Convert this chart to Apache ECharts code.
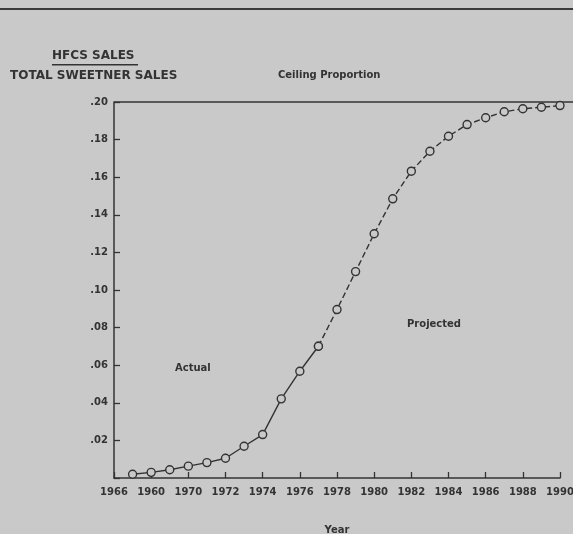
<!DOCTYPE html>
<html>
<head>
<meta charset="utf-8">
<script src="https://cdn.jsdelivr.net/npm/echarts@6/dist/echarts.min.js"></script>
<style>
  html, body { margin: 0; padding: 0; background: #c9c9c9; }
  #main { width: 573px; height: 534px; }
</style>
</head>
<body>
<div id="main"></div>
<script>
// years and HFCS share of total sweetener sales
var actualYears = [1967, 1968, 1969, 1970, 1971, 1972, 1973, 1974, 1975, 1976, 1977];
var actualValues = [0.002, 0.003, 0.0044, 0.0063, 0.0082, 0.0105, 0.0169, 0.0231, 0.0421, 0.0568, 0.0701];
var projYears = [1977, 1978, 1979, 1980, 1981, 1982, 1983, 1984, 1985, 1986, 1987, 1988, 1989, 1990];
var projValues = [0.0701, 0.0896, 0.1098, 0.1299, 0.1485, 0.1632, 0.1738, 0.1818, 0.188, 0.1916, 0.1948, 0.1964, 0.1972, 0.1981];
var xTickLabels = ['1966', '1960', '1970', '1972', '1974', '1976', '1978', '1980', '1982', '1984', '1986', '1988', '1990'];
var ceiling = 0.20;

var ink = '#333';
var bg = '#c9c9c9';
var font = 'DejaVu Sans';

function pairs(xs, ys) {
  var out = [];
  for (var i = 0; i < xs.length; i++) out.push([xs[i], ys[i]]);
  return out;
}

var chart = echarts.init(document.getElementById('main'));

var option = {
  backgroundColor: bg,
  animation: false,
  grid: { left: 114, top: 102, right: 13, bottom: 56, outerBoundsMode: 'none', containLabel: false },
  xAxis: {
    type: 'value',
    min: 1966,
    max: 1990,
    interval: 2,
    name: 'Year',
    nameLocation: 'middle',
    nameGap: 47,
    nameTextStyle: { color: ink, fontFamily: font, fontWeight: 'bold', fontSize: 10 },
    splitLine: { show: false },
    axisLine: { lineStyle: { color: ink, width: 1.5 } },
    axisTick: { inside: true, length: 6, lineStyle: { color: ink, width: 1.3 } },
    axisLabel: {
      color: ink, fontFamily: font, fontWeight: 'bold', fontSize: 10, margin: 9,
      formatter: function (v) { return xTickLabels[Math.round((v - 1966) / 2)] || ''; }
    }
  },
  yAxis: {
    type: 'value',
    min: 0,
    max: 0.2,
    interval: 0.02,
    splitLine: { show: false },
    axisLine: { show: true, lineStyle: { color: ink, width: 1.5 } },
    axisTick: { show: true, inside: true, length: 6, lineStyle: { color: ink, width: 1.3 } },
    axisLabel: {
      color: ink, fontFamily: font, fontWeight: 'bold', fontSize: 10, margin: 6,
      formatter: function (v) {
        if (v === 0) return '';
        return v.toFixed(2).replace(/^0/, '');
      }
    }
  },
  series: [
    {
      name: 'Actual',
      type: 'line',
      data: pairs(actualYears, actualValues),
      symbol: 'circle',
      symbolSize: 8,
      itemStyle: { color: bg, borderColor: ink, borderWidth: 1.4 },
      lineStyle: { color: ink, width: 1.4 },
      z: 3
    },
    {
      name: 'Projected',
      type: 'line',
      data: pairs(projYears, projValues),
      symbol: 'circle',
      symbolSize: 8,
      itemStyle: { color: bg, borderColor: ink, borderWidth: 1.4 },
      lineStyle: { color: ink, width: 1.4, type: [6, 3] },
      z: 3
    }
  ],
  graphic: [
    { type: 'rect', left: 0, top: 8, shape: { width: 573, height: 2 }, style: { fill: '#3a3a3a' } },
    { type: 'text', left: 52, top: 50, style: { text: 'HFCS SALES', fill: ink, font: 'bold 12px "DejaVu Sans"' } },
    { type: 'rect', left: 52, top: 64, shape: { width: 86, height: 1.5 }, style: { fill: ink } },
    { type: 'text', left: 10, top: 70, style: { text: 'TOTAL SWEETNER SALES', fill: ink, font: 'bold 12px "DejaVu Sans"' } },
    { type: 'text', left: 278, top: 70, style: { text: 'Ceiling Proportion', fill: ink, font: 'bold 10px "DejaVu Sans"' } },
    { type: 'text', left: 175, top: 363, style: { text: 'Actual', fill: ink, font: 'bold 10px "DejaVu Sans"' } },
    { type: 'text', left: 407, top: 319, style: { text: 'Projected', fill: ink, font: 'bold 10px "DejaVu Sans"' } }
  ]
};

chart.setOption(option);

// ceiling line runs from the y axis out past the plot to the page edge
var p = chart.convertToPixel({ gridIndex: 0 }, [1966, ceiling]);
chart.setOption({
  graphic: option.graphic.concat([
    { type: 'line', shape: { x1: p[0], y1: p[1], x2: 573, y2: p[1] }, style: { stroke: ink, lineWidth: 1.5 } }
  ])
});
</script>
</body>
</html>
